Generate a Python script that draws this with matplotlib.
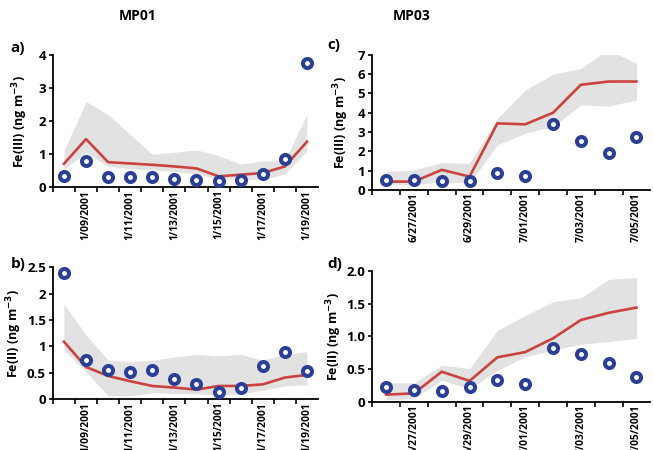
import numpy as np
import matplotlib
matplotlib.use("Agg")
import matplotlib.pyplot as plt

plt.rcParams['font.family'] = ['Open Sans', 'DejaVu Sans']
plt.rcParams['font.weight'] = 'bold'
plt.rcParams['mathtext.default'] = 'bf'

# MP01 dates (1/08 .. 1/19/2001)
mp01_dates = ["1/08/2001", "1/09/2001", "1/10/2001", "1/11/2001", "1/12/2001", "1/13/2001",
              "1/14/2001", "1/15/2001", "1/16/2001", "1/17/2001", "1/18/2001", "1/19/2001"]
# MP03 dates (6/26 .. 7/05/2001)
mp03_dates = ["6/26/2001", "6/27/2001", "6/28/2001", "6/29/2001", "6/30/2001",
              "7/01/2001", "7/02/2001", "7/03/2001", "7/04/2001", "7/05/2001"]

# a) MP01 Fe(III)
a_obs = [0.34, 0.79, 0.31, 0.31, 0.31, 0.25, 0.21, 0.18, 0.21, 0.39, 0.87, 3.77]
a_model = [0.71, 1.46, 0.76, 0.72, 0.68, 0.63, 0.57, 0.33, 0.38, 0.43, 0.63, 1.38]
a_hi = [1.1, 2.6, 2.2, 1.6, 1.0, 1.06, 1.13, 0.96, 0.7, 0.8, 0.8, 2.22]
a_lo = [0.55, 1.05, 0.63, 0.56, 0.52, 0.48, 0.4, 0.25, 0.25, 0.23, 0.4, 1.1]

# b) MP01 Fe(II)
b_obs = [2.39, 0.74, 0.56, 0.51, 0.56, 0.39, 0.28, 0.13, 0.22, 0.63, 0.89, 0.53]
b_model = [1.09, 0.61, 0.44, 0.34, 0.25, 0.22, 0.18, 0.25, 0.25, 0.28, 0.41, 0.46]
b_hi = [1.8, 1.22, 0.74, 0.71, 0.74, 0.8, 0.85, 0.82, 0.85, 0.74, 0.85, 0.9]
b_lo = [0.93, 0.52, 0.06, 0.06, 0.12, 0.11, 0.1, 0.08, 0.1, 0.17, 0.25, 0.27]

# c) MP03 Fe(III)
c_obs = [0.52, 0.52, 0.47, 0.47, 0.86, 0.74, 3.4, 2.55, 1.93, 2.75]
c_model = [0.43, 0.43, 1.04, 0.69, 3.45, 3.4, 4.0, 5.45, 5.62, 5.62]
c_hi = [0.95, 1.04, 1.42, 1.38, 3.71, 5.18, 6.0, 6.3, 7.29, 6.56]
c_lo = [0.31, 0.26, 0.43, 0.35, 2.33, 2.94, 3.28, 4.4, 4.35, 4.66]

# d) MP03 Fe(II)
d_obs = [0.23, 0.18, 0.17, 0.23, 0.33, 0.28, 0.82, 0.73, 0.6, 0.38]
d_model = [0.11, 0.13, 0.46, 0.32, 0.68, 0.76, 0.97, 1.25, 1.36, 1.44]
d_hi = [0.29, 0.29, 0.56, 0.51, 1.09, 1.32, 1.53, 1.59, 1.87, 1.9]
d_lo = [0.03, 0.05, 0.33, 0.2, 0.48, 0.69, 0.79, 0.88, 0.92, 0.97]

BLUE = '#2b3f96'
RED = '#c9433f'
GREY = '#e2e2e2'


def panel(ax, dates, obs, model, hi, lo, yticks, yticklabels, ylabel, label_x):
    x = np.arange(len(dates))
    ax.fill_between(x, lo, hi, color=GREY, lw=0, zorder=1)
    ax.plot(x, model, color=RED, lw=1.9, zorder=2)
    ax.plot(x, obs, 'o', ms=6.5, mfc='white', mec=BLUE, mew=2.9, zorder=3,
            clip_on=False)
    ax.set_xlim(-0.5, len(dates) - 0.5)
    ax.set_ylim(0, yticks[-1])
    ax.set_yticks(yticks)
    ax.set_yticklabels(yticklabels, fontsize=9.5, fontweight='bold')
    ax.set_xticks(x[1::2])
    ax.set_xticklabels([dates[i] for i in x[1::2]], rotation=90, fontsize=7.4,
                       fontweight='bold')
    ax.set_xticks(np.arange(len(dates)) - 0.5, minor=True)
    ax.tick_params(axis='x', which='major', length=0, pad=2)
    ax.tick_params(axis='x', which='minor', length=3.5, width=1.2, direction='out')
    ax.tick_params(axis='y', length=3, width=1.2, pad=2)
    ax.spines['top'].set_visible(False)
    ax.spines['right'].set_visible(False)
    ax.spines['left'].set_linewidth(1.3)
    ax.spines['bottom'].set_linewidth(1.3)
    ax.set_ylabel(ylabel, fontsize=9, fontweight='bold')
    ax.yaxis.set_label_coords(label_x, 0.5)


fig = plt.figure(figsize=(6.53, 4.5), dpi=100)
ax_a = fig.add_axes([0.081, 0.584, 0.406, 0.293])
ax_c = fig.add_axes([0.570, 0.578, 0.426, 0.300])
ax_b = fig.add_axes([0.081, 0.113, 0.406, 0.293])
ax_d = fig.add_axes([0.570, 0.107, 0.426, 0.291])

panel(ax_a, mp01_dates, a_obs, a_model, a_hi, a_lo,
      [0, 1, 2, 3, 4], ['0', '1', '2', '3', '4'], r'Fe(III) (ng m$^{-3}$)', -0.085)
panel(ax_b, mp01_dates, b_obs, b_model, b_hi, b_lo,
      [0, 0.5, 1, 1.5, 2, 2.5], ['0', '0.5', '1', '1.5', '2', '2.5'],
      r'Fe(II) (ng m$^{-3}$)', -0.11)
panel(ax_c, mp03_dates, c_obs, c_model, c_hi, c_lo,
      list(range(8)), [str(v) for v in range(8)], r'Fe(III) (ng m$^{-3}$)', -0.078)
panel(ax_d, mp03_dates, d_obs, d_model, d_hi, d_lo,
      [0, 0.5, 1.0, 1.5, 2.0], ['0', '0.5', '1.0', '1.5', '2.0'],
      r'Fe(II) (ng m$^{-3}$)', -0.1)

fig.text(0.016, 0.885, 'a)', fontsize=11, fontweight='bold')
fig.text(0.016, 0.405, 'b)', fontsize=11, fontweight='bold')
fig.text(0.502, 0.89, 'c)', fontsize=11, fontweight='bold')
fig.text(0.502, 0.405, 'd)', fontsize=11, fontweight='bold')
fig.text(0.21, 0.955, 'MP01', fontsize=10, fontweight='bold', ha='center')
fig.text(0.63, 0.955, 'MP03', fontsize=10, fontweight='bold', ha='center')

fig.savefig('out.png', dpi=100)
